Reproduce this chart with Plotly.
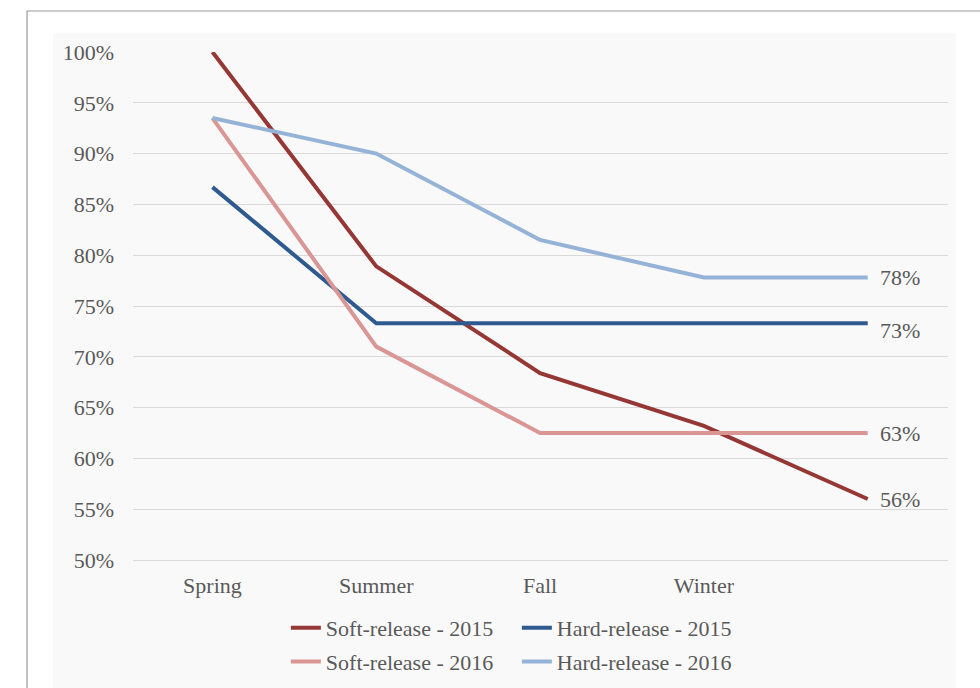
import plotly.graph_objects as go

# Seasons along the x axis (the fifth position is the unlabeled end point)
seasons = ["Spring", "Summer", "Fall", "Winter", ""]
positions = [0, 1, 2, 3, 4]

# Retention rates (%) per release type and year
soft_2015 = [100.0, 78.9, 68.4, 63.2, 56.0]
hard_2015 = [86.7, 73.3, 73.3, 73.3, 73.3]
soft_2016 = [93.5, 71.0, 62.5, 62.5, 62.5]
hard_2016 = [93.5, 90.0, 81.5, 77.8, 77.8]

y_ticks = [50, 55, 60, 65, 70, 75, 80, 85, 90, 95, 100]

series = [
    ("Soft-release - 2015", soft_2015, "#953735", "legend", 0),
    ("Hard-release - 2015", hard_2015, "#2F5A8F", "legend", -7),
    ("Soft-release - 2016", soft_2016, "#D99694", "legend2", 0),
    ("Hard-release - 2016", hard_2016, "#95B3D7", "legend2", 0),
]

FONT = "Liberation Serif, Times New Roman, serif"
TXT = "#595959"
GRID = "#dbd8d8"
FS = 22

fig = go.Figure()
for name, vals, color, leg, yshift in series:
    fig.add_trace(go.Scatter(
        x=positions, y=vals, mode="lines", name=name,
        line=dict(color=color, width=4), legend=leg, cliponaxis=False,
    ))
    last = vals[-1]
    fig.add_annotation(
        x=positions[-1], y=last, text=f"{int(last + 0.5)}%",
        xanchor="left", yanchor="middle", xshift=10, yshift=yshift,
        showarrow=False, font=dict(family=FONT, size=FS, color=TXT),
    )

# Page frame and light chart-area background
fig.add_shape(type="rect", xref="paper", yref="paper",
              x0=-0.13, x1=1.2, y0=-0.4, y1=1.0807,
              line=dict(color="#9a9a9a", width=1.2), fillcolor="white", layer="below")
fig.add_shape(type="rect", xref="paper", yref="paper",
              x0=-0.098, x1=1.01, y0=-0.4, y1=1.037,
              line=dict(width=0), fillcolor="#f9f9f9", layer="below")

legend_style = dict(
    orientation="h", xanchor="center", yanchor="middle", x=0.471,
    font=dict(family=FONT, size=FS, color=TXT), bgcolor="rgba(0,0,0,0)",
    entrywidth=186, entrywidthmode="pixels", itemwidth=30, tracegroupgap=0,
)

fig.update_layout(
    width=980, height=688,
    margin=dict(l=133, r=32, t=52, b=128, autoexpand=False),
    paper_bgcolor="white", plot_bgcolor="rgba(0,0,0,0)",
    font=dict(family=FONT, size=FS, color=TXT),
    showlegend=True,
    legend=dict(legend_style, y=-0.134),
    legend2=dict(legend_style, y=-0.2),
    xaxis=dict(
        range=[-0.485, 4.49], tickvals=positions[:4], ticktext=seasons[:4],
        showgrid=False, zeroline=False, showline=True, linecolor=GRID, linewidth=1,
        ticks="", tickfont=dict(family=FONT, size=FS, color=TXT), ticklabelstandoff=6,
    ),
    yaxis=dict(
        range=[50, 100], tickvals=y_ticks, ticktext=[f"{v}%" for v in y_ticks],
        showgrid=True, gridcolor=GRID, gridwidth=1, zeroline=False,
        showline=False, ticks="", ticklabelstandoff=18,
        tickfont=dict(family=FONT, size=FS, color=TXT),
    ),
)

fig.write_html("out.html")
